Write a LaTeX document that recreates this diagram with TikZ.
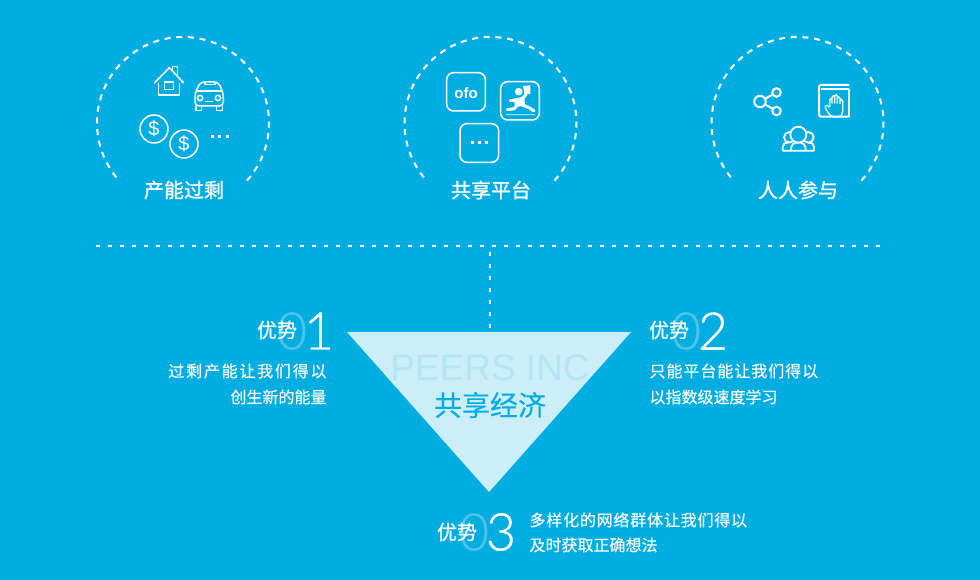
\documentclass[tikz,border=0pt]{standalone}
\usepackage{fontspec}
\setmainfont{Liberation Sans}
\newfontfamily\thindigit[FakeBold=0.6]{Lato Light}
\newfontfamily\cjk[FakeBold=0.15]{Noto Sans CJK SC}
\newfontfamily\cjkT[FakeBold=1.2]{Noto Sans CJK SC}
\newfontfamily\cjkH[FakeBold=0.7]{Noto Sans CJK SC}
\newfontfamily\cjkA[LetterSpace=11,FakeBold=0.15]{Noto Sans CJK SC}
\newfontfamily\cjkB[LetterSpace=6,FakeBold=0.15]{Noto Sans CJK SC}
\newfontfamily\cjkC[LetterSpace=5,FakeBold=0.15]{Noto Sans CJK SC}
\newcommand{\fsz}[1]{\fontsize{#1}{#1}\selectfont}
\definecolor{bgblue}{HTML}{00ADE0}
\definecolor{tripale}{HTML}{CCEEF9}
\definecolor{ghostzero}{HTML}{4CC3E8}
\definecolor{ghostname}{HTML}{B4E5F6}
\tikzset{
  ring/.style={white,line width=2pt,dash pattern=on 6pt off 5.7pt},
  dotline/.style={white,line width=2pt,dash pattern=on 4pt off 8pt},
  icon/.style={white,line width=1.5pt,line join=round},
  bookline/.style={white,line width=2pt,line join=round},
  dotfill/.style={fill=white,draw=none},
  zoomed/.style={x=0.33333pt,y=-0.33333pt},
  title/.style={text=white,font=\cjkT\fsz{20}},
  adv/.style={text=white,font=\cjkH\fsz{20}},
  digit/.style={text=white,font=\thindigit\fsz{52}},
  ghost/.style={text=ghostzero,font=\thindigit\fsz{52}},
  bodyA/.style={text=white,font=\cjkA\fsz{16},anchor=east},
  bodyB/.style={text=white,font=\cjkB\fsz{16},anchor=west},
  bodyC/.style={text=white,font=\cjkC\fsz{16},anchor=west},
  bodyL/.style={text=white,font=\cjk\fsz{16}},
  sharec/.style={circle,draw=white,line width=2pt,inner sep=0pt},
  badge/.style={draw=white,line width=1.5pt,rounded corners=7pt},
}
\begin{document}
\begin{tikzpicture}[x=1pt,y=-1pt]
\useasboundingbox (0,0) rectangle (980,580);
\fill[bgblue] (0,0) rectangle (980,580);

% dashed rings
\draw[ring] (183,123) ++(42:86) arc[start angle=42,end angle=-222,radius=86];
\draw[ring] (490.5,123) ++(42:86) arc[start angle=42,end angle=-222,radius=86];
\draw[ring] (797.5,123) ++(42:86) arc[start angle=42,end angle=-222,radius=86];

\node[title] (t1) at (184,190) {产能过剩};
\node[title] (t2) at (491,190) {共享平台};
\node[title] (t3) at (798,190) {人人参与};

% icons: first ring
\begin{scope}[shift={(90,30)},zoomed]
  \draw[icon] (193,159) -- (238,113) -- (281,159);
  \draw[icon] (248,122) -- (248,109) -- (262,109) -- (262,136);
  \draw[icon] (205,160) -- (205,195) -- (268,195) -- (268,160);
  \draw[icon] (224,156) rectangle (250,179);
  % car
  \draw[icon,rounded corners=4pt] (315,228) -- (315,190) -- (331,156) -- (385,156) -- (400,190) -- (400,228) -- cycle;
  \draw[icon] (318,183) -- (397,183);
  \draw[icon] (345,156) -- (345,163) -- (375,163) -- (375,156);
  \draw[icon] (330,204) circle[radius=8];
  \draw[icon] (384,204) circle[radius=8];
  \draw[icon] (345,214) -- (370,214);
  \draw[icon] (318,228) -- (318,241) -- (335,241) -- (335,228);
  \draw[icon] (380,228) -- (380,241) -- (397,241) -- (397,228);
  % coins
  \draw[icon] (192,297) circle[radius=42];
  \draw[icon] (282,342) circle[radius=42];
  \node[text=white,font=\fsz{20}] (d1) at (192,297) {\$};
  \node[text=white,font=\fsz{20}] (d2) at (282,342) {\$};
  \fill[dotfill] (364,314) rectangle (373,323);
  \fill[dotfill] (385,314) rectangle (394,323);
  \fill[dotfill] (407,314) rectangle (416,323);
\end{scope}

% icons: second ring
\begin{scope}[shift={(400,30)},zoomed]
  \draw[badge] (140,128) rectangle (256,243);
  \node[text=white,font=\bfseries\fsz{15}] (ofo) at (198,188) {ofo};
  \draw[badge] (302,155) rectangle (418,270);
  \draw[badge] (180,281) rectangle (296,397);
  \fill[dotfill] (212,333) rectangle (221,342);
  \fill[dotfill] (234,333) rectangle (243,342);
  \fill[dotfill] (255,333) rectangle (264,342);
\end{scope}
\begin{scope}[shift={(495,76)},zoomed]
  \fill[white] (84,30) -- (106,28) -- (106,54) -- (88,54) -- cycle;
  \fill[white] (71,47) circle[radius=11.5];
  \draw[white,line width=3pt,line cap=round] (46,74) -- (68,72) -- (84,66) -- (94,54);
  \fill[white] (56,68) -- (88,62) -- (90,90) -- (60,92) -- cycle;
  \draw[white,line width=3pt,line cap=round,line join=round] (37,101) -- (58,98) -- (68,86);
  \draw[white,line width=3pt,line cap=round,line join=round] (80,86) -- (104,96) -- (117,105);
  \draw[white,opacity=.6,line width=1pt] (34,117) -- (120,117);
\end{scope}

% icons: third ring
\node[sharec,minimum size=11.5pt] (s1) at (760,101.5) {};
\node[sharec,minimum size=8.5pt] (s2) at (776.5,92.5) {};
\node[sharec,minimum size=8.5pt] (s3) at (776.5,111) {};
\draw[icon,line width=2pt] (s1) -- (s2);
\draw[icon,line width=2pt] (s1) -- (s3);
\begin{scope}[shift={(815,82)},zoomed]
  \draw[bookline,rounded corners=1.5pt] (103,9) -- (12,9) -- (12,104) -- (103,104);
  \draw[bookline] (18,20) -- (103,20);
  \draw[bookline] (103,20) -- (103,104);
  \draw[white,line width=1.2pt,line join=round,rounded corners=1.5pt]
    (50,104) .. controls (42,96) and (34,84) .. (29,74) -- (34,67) -- (44,78)
    -- (44,50) -- (51,50) -- (51,68) -- (51,41) -- (59,41) -- (59,68)
    -- (59,38) -- (67,38) -- (67,68) -- (67,44) -- (75,44) -- (75,70)
    -- (75,52) -- (83,52) -- (83,84) .. controls (83,94) and (79,100) .. (76,104) -- cycle;
\end{scope}
\begin{scope}[shift={(705,30)},zoomed]
  \draw[icon,line width=1.8pt] (253,322) circle[radius=16];
  \draw[icon,line width=1.8pt] (310,322) circle[radius=16];
  \draw[icon,line width=1.8pt,rounded corners=2pt] (258,362) -- (240,362) .. controls (232,362) and (233,352) .. (235,346) .. controls (238,340) and (244,338) .. (250,338);
  \draw[icon,line width=1.8pt,rounded corners=2pt] (302,362) -- (320,362) .. controls (328,362) and (327,352) .. (325,346) .. controls (322,340) and (316,338) .. (310,338);
  \draw[icon,line width=1.8pt,fill=bgblue] (280,314) circle[radius=24];
  \draw[icon,line width=1.8pt,fill=bgblue] (258,362) .. controls (256,344) and (268,336) .. (280,338) .. controls (292,336) and (304,344) .. (302,362) -- cycle;
\end{scope}

% divider and stem
\coordinate (divL) at (96,246);
\coordinate (divR) at (881,246);
\coordinate (stemTop) at (490,252);
\coordinate (triL) at (347,332);
\coordinate (triR) at (631,332);
\coordinate (triB) at (489,492);
\coordinate (triT) at (490,333);
\draw[dotline] (divL) -- (divR);
\draw[dotline] (stemTop) -- (triT);
\fill[tripale] (triL) -- (triR) -- (triB) -- cycle;
\node[text=ghostname,font=\fsz{37}] (peers) at (490,368) {PEERS INC};
\node[text=bgblue,font=\cjk\fsz{28}] (sharing) at (490,405) {共享经济};

% advantage 1
\node[ghost] (z1) at (292,331) {0};
\node[adv] (a1) at (277,330) {优势};
\node[digit] (n1) at (319,331) {1};
\node[bodyA] (b1a) at (330,371) {过剩产能让我们得以};
\node[bodyL,anchor=east] (b1b) at (330,397) {创生新的能量};
% advantage 2
\node[ghost] (z2) at (686,331) {0};
\node[adv] (a2) at (669,330) {优势};
\node[digit] (n2) at (713,331) {2};
\node[bodyB] (b2a) at (646,371) {只能平台能让我们得以};
\node[bodyL,anchor=west] (b2b) at (646,397) {以指数级速度学习};
% advantage 3
\node[ghost] (z3) at (474,532) {0};
\node[adv] (a3) at (457,532) {优势};
\node[digit] (n3) at (501,532) {3};
\node[bodyC] (b3a) at (526,520) {多样化的网络群体让我们得以};
\node[bodyL,anchor=west] (b3b) at (526,545) {及时获取正确想法};
\end{tikzpicture}
\end{document}
